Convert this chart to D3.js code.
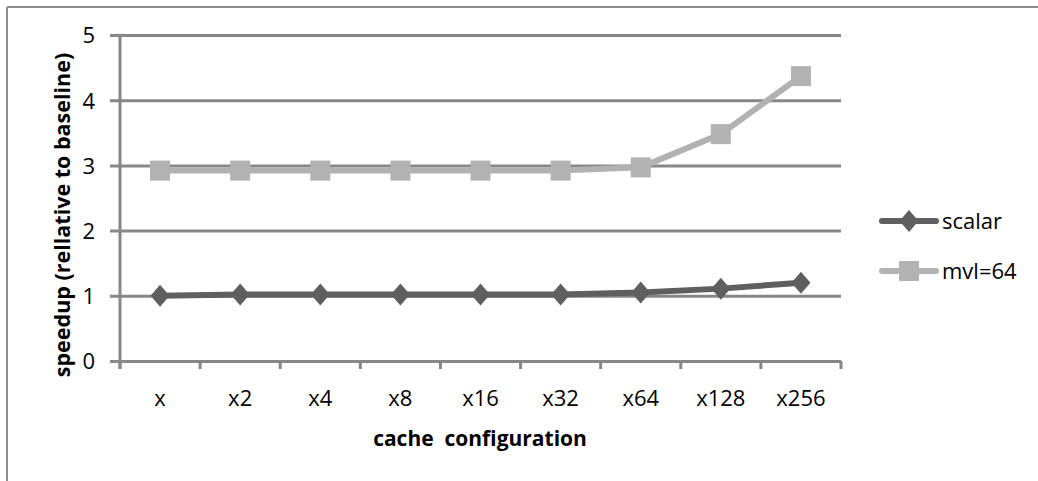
<!DOCTYPE html>
<html>
<head>
<meta charset="utf-8">
<script src="https://cdn.jsdelivr.net/npm/d3@7"></script>
<style>
  html, body { margin: 0; padding: 0; background: #fff; }
  svg { display: block; }
  text { font-family: "Open Sans", "Noto Sans", sans-serif; fill: #000; }
</style>
</head>
<body>
<script>
// Cache configurations along the x axis
const categories = ["x", "x2", "x4", "x8", "x16", "x32", "x64", "x128", "x256"];
// Speedup relative to baseline for each series
const scalarValues = [1.00, 1.02, 1.02, 1.02, 1.02, 1.02, 1.05, 1.11, 1.20];
const mvlValues = [2.92, 2.92, 2.92, 2.92, 2.92, 2.92, 2.97, 3.48, 4.37];
const seriesNames = ["scalar", "mvl=64"];
const yTicks = [0, 1, 2, 3, 4, 5];

const W = 1038, H = 481;
const plot = { left: 120, right: 841, top: 35, bottom: 361 };
const gridColor = "#878787";
const colors = { "scalar": "#5f5f5f", "mvl=64": "#b2b2b2" };

const svg = d3.select("body").append("svg").attr("width", W).attr("height", H);

// outer frame (top and left edges visible)
svg.append("line").attr("x1", 7).attr("x2", W + 5).attr("y1", 7).attr("y2", 7)
  .attr("stroke", "#8c8c8c").attr("stroke-width", 2);
svg.append("line").attr("x1", 7).attr("x2", 7).attr("y1", 7).attr("y2", H + 5)
  .attr("stroke", "#8c8c8c").attr("stroke-width", 2);

const x = d3.scaleBand().domain(categories).range([plot.left, plot.right]).padding(0);
const y = d3.scaleLinear().domain([0, 5]).range([plot.bottom, plot.top]);
const cx = c => x(c) + x.bandwidth() / 2;

// horizontal gridlines with short outward ticks
const yAxis = d3.axisLeft(y).tickValues(yTicks).tickSize(-(plot.right - plot.left)).tickPadding(0).tickFormat(d3.format("d"));
const yg = svg.append("g").attr("transform", `translate(${plot.left},0)`).call(yAxis);
yg.select(".domain").remove();
yg.selectAll(".tick line").attr("x1", -10).attr("stroke", gridColor).attr("stroke-width", 3);
yg.selectAll(".tick text").attr("x", -25).attr("dy", "0.36em")
  .style("font-size", "22px").attr("text-anchor", "end");

// vertical axis line
svg.append("line").attr("x1", plot.left).attr("x2", plot.left)
  .attr("y1", plot.top).attr("y2", plot.bottom + 8)
  .attr("stroke", gridColor).attr("stroke-width", 3);

// x axis with tick marks at category boundaries
const boundaries = categories.map(c => x(c)).concat([plot.right]);
svg.append("g").selectAll("line").data(boundaries).join("line")
  .attr("x1", d => d).attr("x2", d => d)
  .attr("y1", plot.bottom).attr("y2", plot.bottom + 8)
  .attr("stroke", gridColor).attr("stroke-width", 3);
svg.selectAll(".xlab").data(categories).join("text").attr("class", "xlab")
  .attr("x", d => cx(d)).attr("y", 406)
  .attr("text-anchor", "middle").style("font-size", "22px").text(d => d);

// axis titles
svg.append("text").attr("x", 480).attr("y", 446).attr("text-anchor", "middle")
  .style("font-size", "21px").style("font-weight", "bold").style("white-space", "pre")
  .text("cache  configuration");
svg.append("text").attr("transform", "translate(70,215) rotate(-90)").attr("text-anchor", "middle")
  .style("font-size", "21.5px").style("font-weight", "bold")
  .text("speedup (rellative to baseline)");

const line = d3.line().x((d, i) => cx(categories[i])).y(d => y(d));
// diamond marker, slightly taller than wide
const diamondPath = "M0,-11L9.5,0L0,11L-9.5,0Z";

// mvl=64 series
svg.append("path").datum(mvlValues).attr("d", line).attr("fill", "none")
  .attr("stroke", colors["mvl=64"]).attr("stroke-width", 6).attr("stroke-linejoin", "round");
svg.selectAll(".sq").data(mvlValues).join("rect").attr("class", "sq")
  .attr("x", (d, i) => cx(categories[i]) - 10)
  .attr("y", d => y(d) - 10).attr("width", 20).attr("height", 20)
  .attr("fill", colors["mvl=64"]);

// scalar series
svg.append("path").datum(scalarValues).attr("d", line).attr("fill", "none")
  .attr("stroke", colors["scalar"]).attr("stroke-width", 6).attr("stroke-linejoin", "round");
svg.selectAll(".dm").data(scalarValues).join("path").attr("class", "dm")
  .attr("transform", (d, i) => `translate(${cx(categories[i])},${y(d)})`)
  .attr("d", diamondPath).attr("fill", colors["scalar"]);

// legend
const legend = svg.append("g");
const legendY = [221, 271];
seriesNames.forEach((name, i) => {
  const g = legend.append("g").attr("transform", `translate(0,${legendY[i]})`);
  g.append("line").attr("x1", 882).attr("x2", 936).attr("y1", 0).attr("y2", 0)
    .attr("stroke", colors[name]).attr("stroke-width", 6).attr("stroke-linecap", "round");
  if (name === "scalar") {
    g.append("path").attr("transform", "translate(909,0)").attr("d", diamondPath).attr("fill", colors[name]);
  } else {
    g.append("rect").attr("x", 899).attr("y", -10).attr("width", 20).attr("height", 20).attr("fill", colors[name]);
  }
  g.append("text").attr("x", 942).attr("y", 0).attr("dy", "0.36em")
    .style("font-size", "22px").text(name);
});
</script>
</body>
</html>
